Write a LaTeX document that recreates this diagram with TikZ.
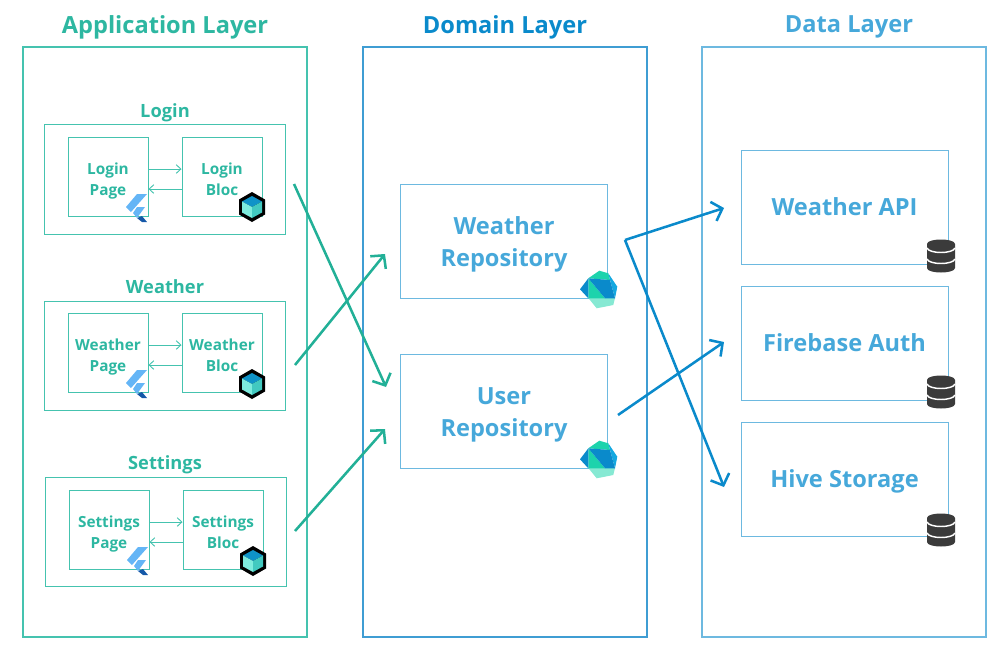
\documentclass[tikz,border=0pt]{standalone}
\usepackage{fontspec}
\setmainfont{Open Sans}
\usetikzlibrary{arrows.meta}

\definecolor{appgreen}{HTML}{2DB7A1}
\definecolor{appline}{HTML}{45C3AF}
\definecolor{arrowgreen}{HTML}{22B097}
\definecolor{domainblue}{HTML}{0A8ACB}
\definecolor{domainline}{HTML}{3F9DD3}
\definecolor{datablue}{HTML}{46A8DA}
\definecolor{dataline}{HTML}{6DB9E0}
\definecolor{dbgrey}{HTML}{3B3B3B}
\definecolor{bloctop}{HTML}{0F93C8}
\definecolor{blocleft}{HTML}{7DEBDD}
\definecolor{blocright}{HTML}{42C9C0}
\definecolor{flutterlight}{HTML}{64B5F6}
\definecolor{flutterdark}{HTML}{1558A8}
\definecolor{dartgreen}{HTML}{1CD3AC}
\definecolor{dartpale}{HTML}{86E9D3}
\definecolor{dartcyan}{HTML}{14A8E0}

\tikzset{
  layertitle/.style={font=\fontsize{17.7}{21}\selectfont\bfseries},
  panel/.style={draw, line width=1.3pt, minimum width=213pt, minimum height=442.5pt, inner sep=0pt},
  group/.style={draw=appline, line width=0.7pt, minimum width=180.75pt, minimum height=82pt, inner sep=0pt},
  grouptitle/.style={text=appgreen, font=\fontsize{13.7}{17}\selectfont\bfseries},
  unit/.style={draw=appline, line width=0.7pt, minimum width=60pt, minimum height=59.25pt, inner sep=0pt,
    text=appgreen, align=center, text height=29.2pt, text depth=0pt, font=\fontsize{11.5}{15.75}\selectfont\bfseries},
  box/.style={draw=dataline, line width=0.7pt, minimum width=155.25pt, minimum height=85.5pt, inner sep=0pt,
    text=datablue, align=center, font=\fontsize{17.7}{24}\selectfont\bfseries},
  repo/.style={box, text height=38.2pt, text depth=0pt},
  source/.style={box, text height=12.8pt, text depth=0pt},
  thin arrow/.style={draw=appline, line width=0.7pt, -{Straight Barb[length=3.5pt,width=6.5pt]}},
  green arrow/.style={draw=arrowgreen, line width=1.9pt, -{Straight Barb[length=7pt,width=15pt]}},
  blue arrow/.style={draw=domainblue, line width=1.9pt, -{Straight Barb[length=7pt,width=15pt]}},
  pics/bloc/.style={code={
    \fill[black] (0,-15) -- (13,-7.5) -- (13,7.5) -- (0,15) -- (-13,7.5) -- (-13,-7.5) -- cycle;
    \fill[bloctop] (0,-11) -- (10,-5.5) -- (0,0) -- (-10,-5.5) -- cycle;
    \fill[blocleft] (-10,-5.5) -- (0,0) -- (0,11) -- (-10,5.5) -- cycle;
    \fill[blocright] (10,-5.5) -- (0,0) -- (0,11) -- (10,5.5) -- cycle;
  }},
  pics/flutter/.style={code={
    \fill[flutterlight] (-1,-22) -- (-11,-22) -- (-22,-9) -- (-17,-4) -- cycle;
    \fill[flutterlight] (-3,-9) -- (-11,-9) -- (-15,-3) -- (-11,2) -- cycle;
    \fill[flutterdark] (-11,2) -- (-6,6) -- (-1,6) -- (-6,0) -- cycle;
  }},
  pics/dart/.style={code={
    \fill[dartpale] (-18.7,0) -- (8,0) -- (6.3,7) -- (-10.3,10.3) -- cycle;
    \fill[dartgreen] (-18.7,-19.7) -- (-7.7,-27.3) -- (1.3,-24.7) -- (3,-18) -- cycle;
    \fill[dartgreen] (-18.7,-19.7) -- (-2,0.3) -- (-18.7,0.3) -- cycle;
    \fill[domainblue] (-18.7,-19.7) -- (-27,-8.7) -- (-18.7,0.3) -- cycle;
    \fill[dartcyan] (1.3,-24.7) -- (10.3,-11.3) -- (8,0.3) -- cycle;
    \fill[domainblue] (-18.7,-19.7) -- (3,-18) -- (8,0.3) -- (-2,0.3) -- cycle;
  }},
  pics/storage/.style={code={
    \fill[dbgrey] (-14,-12) .. controls (-14,-18) and (14,-18) .. (14,-12)
      -- (14,12) .. controls (14,18) and (-14,18) .. (-14,12) -- cycle;
    \foreach \ypos in {-8,3} {
      \draw[white, line width=1.1pt] (-14,\ypos) .. controls (-12,\ypos+6) and (12,\ypos+6) .. (14,\ypos);
    }
  }}
}

\begin{document}
\begin{tikzpicture}[x=0.75pt, y=-0.75pt]
\useasboundingbox (0,0) rectangle (1007,646);

% layers
\path (165,27) node[layertitle, text=appgreen] (applabel) {Application Layer}
(505,27) node[layertitle, text=domainblue] (domainlabel) {Domain Layer}
(849,27) node[layertitle, text=datablue] (datalabel) {Data Layer}

(165,342) node[panel, draw=appline] (app) {}
(505,342) node[panel, draw=domainline] (domain) {}
(844,342) node[panel, draw=dataline] (data) {};

% application layer
\path (165,112.5) node[grouptitle] (logint) {Login}
(165,287) node[grouptitle] (weathert) {Weather}
(165,465) node[grouptitle] (settingst) {Settings}

(165,179.5) node[group] (login) {}
(165,356) node[group] (weather) {}
(166,532) node[group] (settings) {}

(108,176.5) node[unit] (loginp) {Login\\Page}
(222,176.5) node[unit] (loginb) {Login\\Bloc}
(108,352.5) node[unit] (weatherp) {Weather\\Page}
(222,352.5) node[unit] (weatherb) {Weather\\Bloc}
(109,529.5) node[unit] (settingsp) {Settings\\Page}
(223,529.5) node[unit] (settingsb) {Settings\\Bloc};

\draw[thin arrow] ([yshift=5.6pt]loginp.east) -- ([yshift=5.6pt]loginb.west);
\draw[thin arrow] ([yshift=-9.4pt]loginb.west) -- ([yshift=-9.4pt]loginp.east);
\draw[thin arrow] ([yshift=5.6pt]weatherp.east) -- ([yshift=5.6pt]weatherb.west);
\draw[thin arrow] ([yshift=-9.4pt]weatherb.west) -- ([yshift=-9.4pt]weatherp.east);
\draw[thin arrow] ([yshift=5.6pt]settingsp.east) -- ([yshift=5.6pt]settingsb.west);
\draw[thin arrow] ([yshift=-9.4pt]settingsb.west) -- ([yshift=-9.4pt]settingsp.east);

% domain and data layer
\path (504,241) node[repo] (weatherr) {Weather\\Repository}
(504,411) node[repo] (userr) {User\\Repository}
(844.5,207) node[source] (weatherapi) {Weather API}
(844.5,343) node[source] (firebase) {Firebase Auth}
(844.5,479) node[source] (hive) {Hive Storage};

% free ends of the long arrows
\coordinate (a1) at (294,184);
\coordinate (a2) at (295,365);
\coordinate (a3) at (295,531);
\coordinate (b1) at (386,387);
\coordinate (b2) at (385,254);
\coordinate (b3) at (385,429);
\coordinate (c1) at (625,240);
\coordinate (c2) at (618,415);
\coordinate (d1) at (724,208);
\coordinate (d2) at (724,342);
\coordinate (d3) at (724,487);

\draw[green arrow] (a1) -- (b1);
\draw[green arrow] (a2) -- (b2);
\draw[green arrow] (a3) -- (b3);
\draw[blue arrow] (c1) -- (d1);
\draw[blue arrow] (c1) -- (d3);
\draw[blue arrow] (c2) -- (d2);

% icons
\path (148,216) pic {flutter}
(148,392) pic {flutter}
(149,569) pic {flutter}
(252,207) pic {bloc}
(252,384) pic {bloc}
(253,561) pic {bloc}
(607,298) pic {dart}
(607,468) pic {dart}
(941,256) pic {storage}
(941,392) pic {storage}
(941,530) pic {storage};
\end{tikzpicture}
\end{document}
